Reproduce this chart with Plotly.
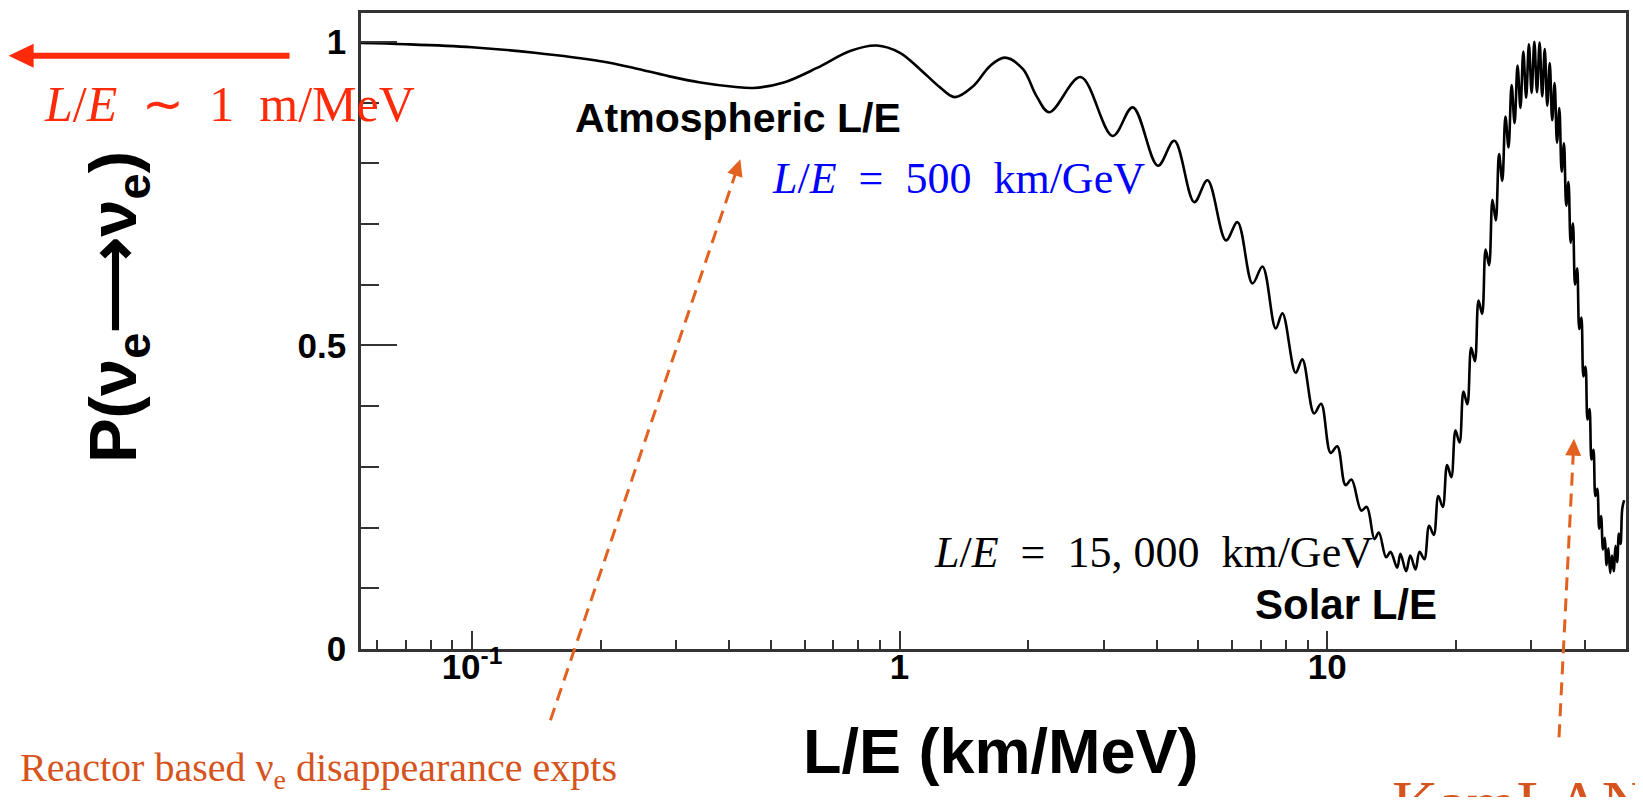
import math
import plotly.graph_objects as go

# ---------------- data ----------------
# L/E (km/MeV) and survival probability P(nu_e -> nu_e)
LE = [0.055, 0.07, 0.1, 0.14, 0.2, 0.239, 0.286, 0.342, 0.409, 0.455, 0.536, 0.641, 0.766, 0.884,
      1.002, 1.116, 1.243, 1.346, 1.486, 1.626, 1.762, 1.944, 2.089, 2.24,
      2.65, 3.15, 3.51, 4.02, 4.39, 4.89, 5.25, 5.80, 6.17, 6.69, 7.06, 7.58, 7.86, 8.44, 8.75,
      9.32, 9.68, 10.19, 10.56, 11.04, 11.40, 12.02, 12.38, 12.90, 13.21, 13.74, 14.07, 14.58,
      14.84, 15.30, 15.65, 16.09, 16.45,
      16.88, 17.32, 17.76, 18.20, 18.64, 19.08, 19.52, 19.96, 20.40, 20.84, 21.28, 21.72, 22.16,
      22.60, 23.04, 23.48, 23.92, 24.36, 24.80, 25.24, 25.68, 26.12, 26.56, 27.00, 27.44, 27.88,
      28.32, 28.76, 29.20, 29.64, 30.08, 30.52, 30.96, 31.40, 31.84, 32.28, 32.72, 33.16, 33.60,
      34.04, 34.48, 34.92, 35.36, 35.80, 36.24, 36.68, 37.12, 37.56, 38.00, 38.44, 38.88, 39.32,
      39.76, 40.20, 40.64, 41.08, 41.52, 41.96, 42.40, 42.84, 43.28, 43.72, 44.16, 44.60, 45.04,
      45.48, 45.92, 46.36, 46.80, 47.24, 47.68, 48.12, 48.56, 49.00, 49.50]
P = [0.998, 0.996, 0.991, 0.982, 0.968, 0.957, 0.944, 0.933, 0.926, 0.924, 0.933, 0.957, 0.985, 0.994,
     0.982, 0.955, 0.925, 0.909, 0.927, 0.960, 0.974, 0.955, 0.911, 0.884,
     0.942, 0.845, 0.892, 0.796, 0.837, 0.736, 0.772, 0.673, 0.703, 0.602, 0.630, 0.528, 0.553, 0.455, 0.477,
     0.388, 0.404, 0.323, 0.334, 0.270, 0.279, 0.228, 0.234, 0.181, 0.192, 0.151, 0.160, 0.134,
     0.157, 0.128, 0.154, 0.131, 0.160,
     0.148, 0.203, 0.188, 0.252, 0.234, 0.303, 0.283, 0.360, 0.340, 0.424, 0.403, 0.496, 0.474,
     0.574, 0.552, 0.658, 0.632, 0.740, 0.706, 0.815, 0.771, 0.877, 0.826, 0.929, 0.866, 0.961,
     0.891, 0.984, 0.908, 0.996, 0.916, 1.000, 0.917, 0.999, 0.910, 0.988, 0.895, 0.965, 0.871,
     0.932, 0.834, 0.891, 0.786, 0.833, 0.730, 0.769, 0.669, 0.701, 0.600, 0.627, 0.527, 0.546,
     0.449, 0.465, 0.378, 0.395, 0.312, 0.328, 0.252, 0.264, 0.198, 0.219, 0.164, 0.183, 0.138,
     0.166, 0.125, 0.154, 0.128, 0.170, 0.143, 0.190, 0.173, 0.231, 0.245]

# axis ticks
Y_MAJOR = [0, 0.5, 1]
Y_MAJOR_TEXT = ["0", "0.5", "1"]
Y_MINOR = [0.1, 0.2, 0.3, 0.4, 0.6, 0.7, 0.8, 0.9]
X_MAJOR = [0.1, 1, 10]
X_MAJOR_TEXT = ["10<sup>-1</sup>", "1", "10"]
X_MINOR = [0.06, 0.07, 0.08, 0.09, 0.2, 0.3, 0.4, 0.5, 0.6, 0.7, 0.8, 0.9,
           2, 3, 4, 5, 6, 7, 8, 9, 20, 30, 40, 50]
X_RANGE = [0.055, 50]
Y_RANGE = [0, 1.0475]

# ---------------- layout geometry ----------------
# the page body adds an 8 px margin; positions below are page pixels
OFF = 8
W, H = 1643 - 2 * OFF, 805 - 2 * OFF
L0, R0, T0, B0 = 360.5, 1626, 10, 649.3


def fx(px):
    return (px - L0) / (R0 - L0)


def fy(py):
    return (B0 - py) / (B0 - T0)


AX = "#333333"
RED = "#ff2a0a"
ORANGE = "#e2611f"
TXT_OR = "#d6531d"
SANS = "Liberation Sans, Arial, Helvetica, sans-serif"
SERIF = "Liberation Serif, Times New Roman, serif"

fig = go.Figure()
fig.add_trace(go.Scatter(x=LE, y=P, mode="lines",
                         line=dict(color="black", width=2.6, shape="spline", smoothing=1.0),
                         hoverinfo="skip"))

fig.update_layout(width=W, height=H,
                  margin=dict(l=L0 - OFF, r=(W + OFF) - R0, t=T0 - OFF, b=(H + OFF) - B0, pad=0),
                  paper_bgcolor="white", plot_bgcolor="white", showlegend=False)

fig.update_xaxes(type="log", range=[math.log10(X_RANGE[0]), math.log10(X_RANGE[1])],
                 showgrid=False, zeroline=False, showline=True, linecolor=AX, linewidth=2.5,
                 mirror=True, ticks="inside", ticklen=18, tickwidth=2, tickcolor=AX,
                 tickmode="array", tickvals=X_MAJOR, ticktext=X_MAJOR_TEXT,
                 tickfont=dict(family=SANS, size=35, color="black", weight="bold"),
                 ticklabelstandoff=-15,
                 minor=dict(tickmode="array", tickvals=X_MINOR, ticks="inside", ticklen=9,
                            tickwidth=2, tickcolor=AX, showgrid=False))

fig.update_yaxes(range=Y_RANGE, showgrid=False, zeroline=False, showline=True, linecolor=AX,
                 linewidth=2.5, mirror=True, ticks="inside", ticklen=36, tickwidth=2,
                 tickcolor=AX, tickmode="array", tickvals=Y_MAJOR, ticktext=Y_MAJOR_TEXT,
                 tickfont=dict(family=SANS, size=35, color="black", weight="bold"),
                 ticklabelstandoff=5,
                 minor=dict(tickmode="array", tickvals=Y_MINOR, ticks="inside", ticklen=18,
                            tickwidth=2, tickcolor=AX, showgrid=False))


def ann(text, x, y, size, color, family, xanchor="center", yanchor="middle", angle=0):
    return dict(text=text, x=fx(x), y=fy(y), xref="paper", yref="paper", showarrow=False,
                font=dict(size=size, color=color, family=family), xanchor=xanchor,
                yanchor=yanchor, textangle=angle)


EN = "\u2002"
annotations = [
    ann("<b>Atmospheric L/E</b>", 738, 116, 41, "black", SANS),
    ann("<b>Solar L/E</b>", 1346, 605, 42, "black", SANS),
    ann("<i>L</i>/<i>E</i>" + EN + "=" + EN + "500" + EN + "km/GeV", 958, 176, 44, "#0000ff", SERIF),
    ann("<i>L</i>/<i>E</i>" + EN + "=" + EN + "15, 000" + EN + "km/GeV", 1153, 552, 44, "black", SERIF),
    ann("<i>L</i>/<i>E</i>" + EN + "\u223c" + EN + "1" + EN + "m/MeV", 229, 101, 50, RED, SERIF),
    ann("Reactor based ν<sub>e</sub> disappearance expts", 318, 771, 40, TXT_OR, SERIF),
    ann("KamLAND", 1390, 767, 64, TXT_OR, SERIF, xanchor="left", yanchor="top"),
    ann("<b>L/E (km/MeV)</b>", 1001, 752, 63, "black", SANS),
    ann("<b>P(ν<sub>e</sub>\u27f6ν<sub>e</sub>)</b>", 117, 306, 67, "black", SANS, angle=-90),
]
fig.update_layout(annotations=annotations)


def line_shape(x0, y0, x1, y1, color, width, dash="solid"):
    return dict(type="line", xref="paper", yref="paper", x0=fx(x0), y0=fy(y0), x1=fx(x1), y1=fy(y1),
                line=dict(color=color, width=width, dash=dash), layer="above")


def head_shape(tipx, tipy, fromx, fromy, length, half, color):
    dx, dy = tipx - fromx, tipy - fromy
    n = math.hypot(dx, dy)
    ux, uy = dx / n, dy / n
    bx, by = tipx - ux * length, tipy - uy * length
    px_, py_ = -uy, ux
    pts = [(tipx, tipy), (bx + px_ * half, by + py_ * half), (bx - px_ * half, by - py_ * half)]
    path = "M " + " L ".join(f"{fx(a):.5f},{fy(b):.5f}" for a, b in pts) + " Z"
    return dict(type="path", xref="paper", yref="paper", path=path,
                fillcolor=color, line=dict(color=color, width=0), layer="above")


def arrow(tail, tip, color, width, length, half, dash="solid"):
    dx, dy = tip[0] - tail[0], tip[1] - tail[1]
    n = math.hypot(dx, dy)
    ex, ey = tip[0] - dx / n * (length - 2), tip[1] - dy / n * (length - 2)
    return [line_shape(tail[0], tail[1], ex, ey, color, width, dash),
            head_shape(tip[0], tip[1], tail[0], tail[1], length, half, color)]


shapes = []
shapes += arrow((289, 53), (8, 53), RED, 6, 25, 12)
shapes += arrow((550, 721), (740, 157), ORANGE, 3, 17, 8, dash="13px,8px")
shapes += arrow((1559, 738), (1574, 438), ORANGE, 3, 17, 8, dash="13px,8px")
fig.update_layout(shapes=shapes)

fig.write_html("out.html")
